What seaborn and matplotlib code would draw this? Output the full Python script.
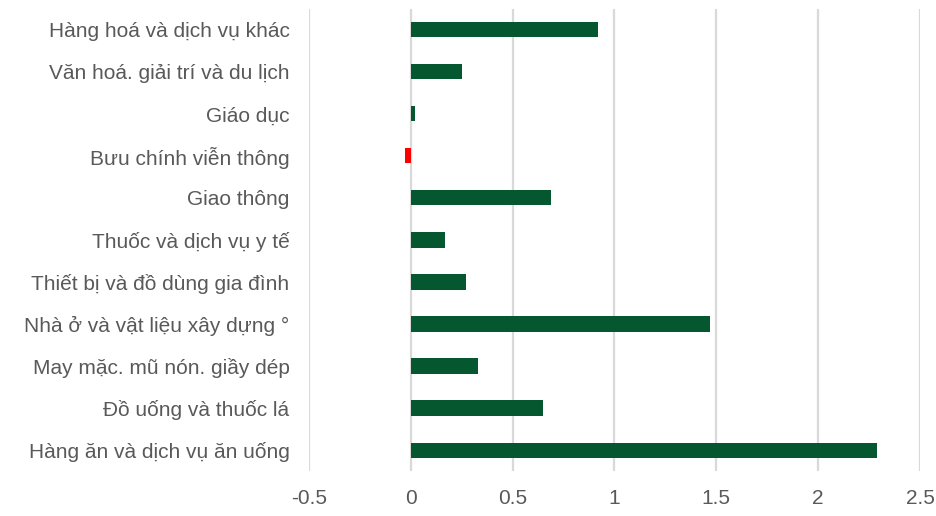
import pandas as pd
import matplotlib.pyplot as plt
import seaborn as sns

OUTPUT_FILE = "out.png"

# categories from top to bottom as shown in the chart
categories = [
    "Hàng hoá và dịch vụ khác",
    "Văn hoá. giải trí và du lịch",
    "Giáo dục",
    "Bưu chính viễn thông",
    "Giao thông",
    "Thuốc và dịch vụ y tế",
    "Thiết bị và đồ dùng gia đình",
    "Nhà ở và vật liệu xây dựng °",
    "May mặc. mũ nón. giầy dép",
    "Đồ uống và thuốc lá",
    "Hàng ăn và dịch vụ ăn uống",
]
values = [0.92, 0.25, 0.02, -0.03, 0.69, 0.17, 0.27, 1.47, 0.33, 0.65, 2.29]
x_ticks = [-0.5, 0, 0.5, 1, 1.5, 2, 2.5]
x_tick_labels = ["-0.5", "0", "0.5", "1", "1.5", "2", "2.5"]

color_pos = "#05572F"   # dark green
color_neg = "#FF0000"   # red for negative values
grid_color = "#D9D9D9"
text_color = "#595959"


def generate_graph():
    df = pd.DataFrame({"Nhóm": categories, "Giá trị": values})
    palette = {c: (color_neg if v < 0 else color_pos) for c, v in zip(categories, values)}

    sns.set_style("white")
    plt.rcParams["font.family"] = ["Liberation Sans", "DejaVu Sans"]

    fig = plt.figure(figsize=(9.36, 5.16), dpi=100)
    ax = fig.add_axes([0.330, 0.087, 0.653, 0.896])

    sns.barplot(data=df, y="Nhóm", x="Giá trị", hue="Nhóm", palette=palette,
                order=categories, hue_order=categories, legend=False,
                width=0.36, orient="h", saturation=1, linewidth=0, ax=ax)

    ax.set_xlim(-0.5, 2.5)
    ax.set_ylim(len(categories) - 0.5, -0.5)
    ax.set_xticks(x_ticks)
    ax.set_xticklabels(x_tick_labels)
    ax.set_xlabel("")
    ax.set_ylabel("")

    # vertical gridlines only, behind the bars
    ax.set_axisbelow(True)
    ax.xaxis.grid(True, color=grid_color, linewidth=1.6)
    ax.yaxis.grid(False)
    for s in ax.spines.values():
        s.set_visible(False)

    ax.tick_params(axis="both", length=0, labelsize=15, colors=text_color)
    ax.tick_params(axis="y", pad=14)
    ax.tick_params(axis="x", pad=13)

    plt.savefig(OUTPUT_FILE, dpi=100)


if __name__ == "__main__":
    generate_graph()
